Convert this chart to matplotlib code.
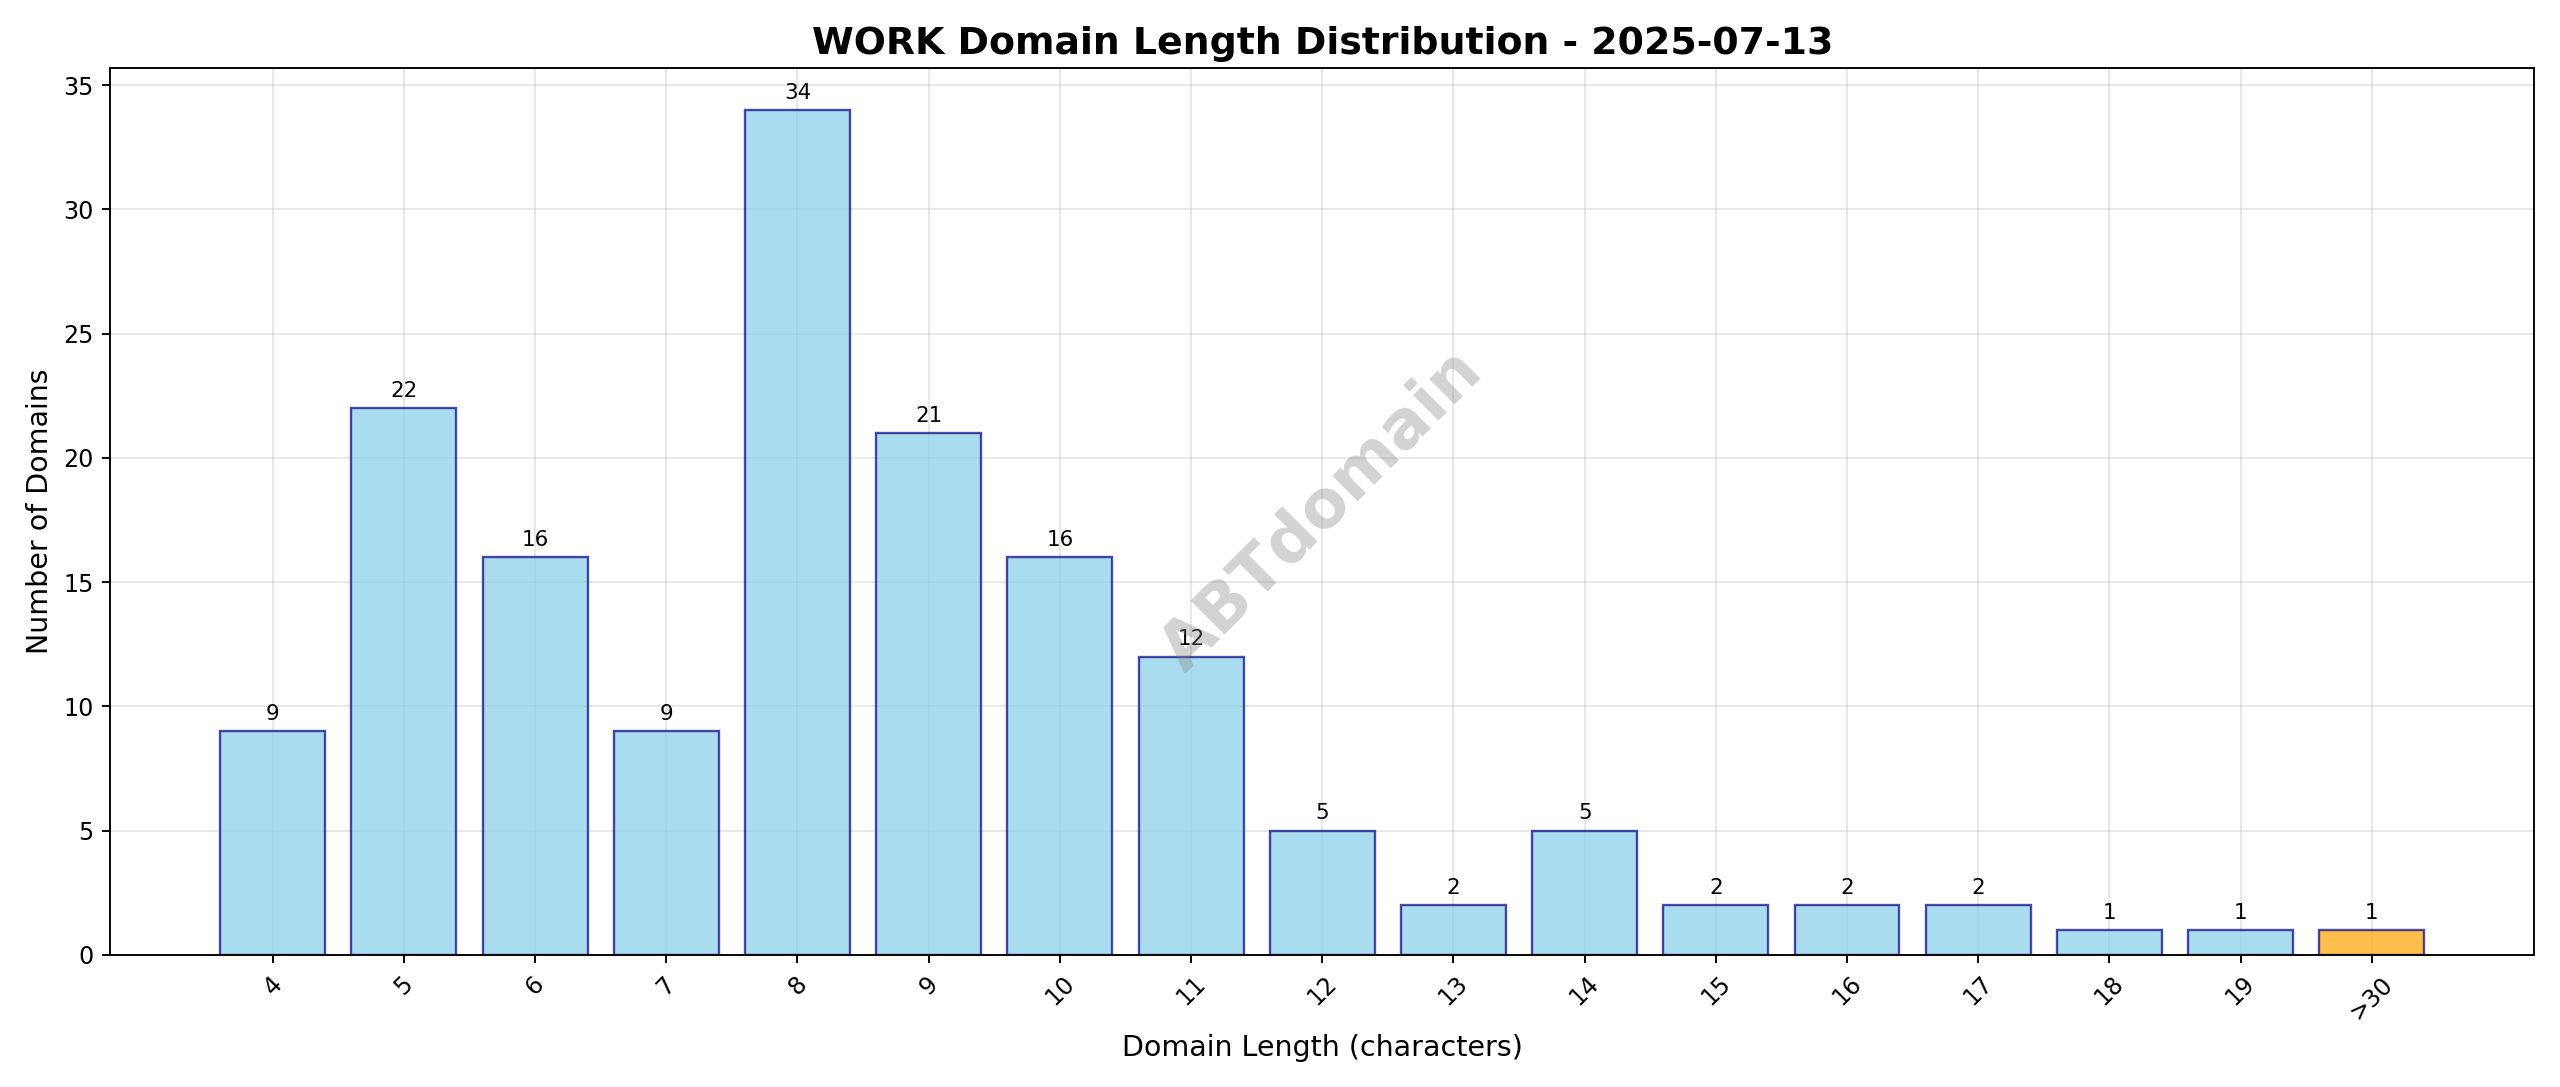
import matplotlib.pyplot as plt

lengths = ["4", "5", "6", "7", "8", "9", "10", "11", "12", "13", "14", "15", "16", "17", "18", "19", ">30"]
counts = [9, 22, 16, 9, 34, 21, 16, 12, 5, 2, 5, 2, 2, 2, 1, 1, 1]

colors = ["skyblue"] * (len(lengths) - 1) + ["orange"]

fig, ax = plt.subplots(figsize=(15, 6.37), dpi=170.67)
x = range(len(lengths))
bars = ax.bar(x, counts, color=colors, alpha=0.7, edgecolor="navy", linewidth=1)
for b, v in zip(bars, counts):
    ax.text(b.get_x() + b.get_width() / 2, b.get_height() + 0.3, str(v),
            ha="center", va="bottom", fontsize=9)

ax.set_xticks(list(x))
ax.set_xticklabels(lengths, rotation=45)
ax.set_xlabel("Domain Length (characters)", fontsize=12)
ax.set_ylabel("Number of Domains", fontsize=12)
ax.set_title("WORK Domain Length Distribution - 2025-07-13", fontsize=16, fontweight="bold")
ax.grid(True, alpha=0.3)
ax.set_axisbelow(True)

ax.text(0.5, 0.5, "ABTdomain", transform=ax.transAxes, fontsize=28, fontweight="bold",
        color="gray", alpha=0.35, rotation=45, ha="center", va="center")

fig.tight_layout()
fig.savefig("out.png")
